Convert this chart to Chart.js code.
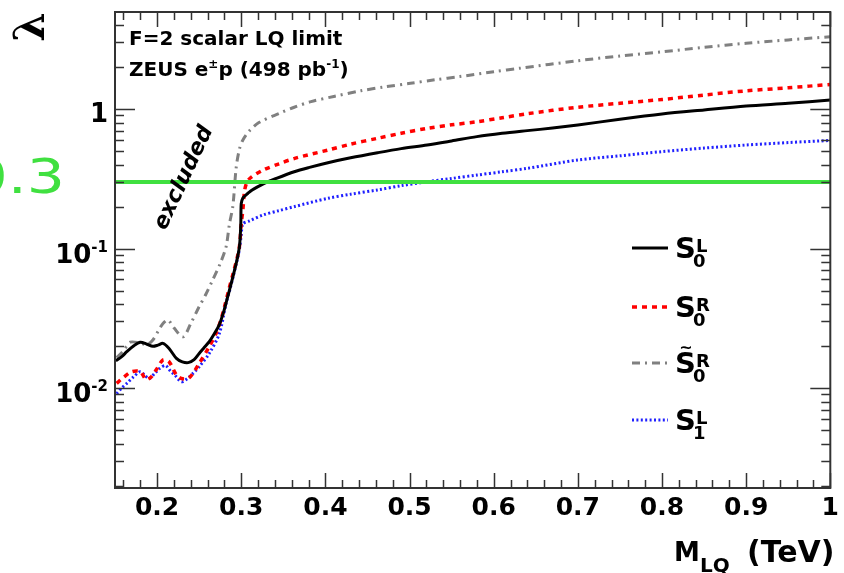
<!DOCTYPE html>
<html><head><meta charset="utf-8">
<script src="https://cdn.jsdelivr.net/npm/chart.js@4/dist/chart.umd.min.js"></script>
<style>html,body{margin:0;padding:0;background:#fff;}#wrap{width:844px;height:573px;position:relative;}</style>
</head><body><div id="wrap"><canvas id="c"></canvas></div>
<script>
// ---- data ----
const massS0L = [0.151,0.158,0.164,0.172,0.180,0.188,0.195,0.201,0.207,0.214,0.223,0.230,0.237,0.244,0.250,0.256,0.262,0.268,0.274,0.279,0.283,0.287,0.291,0.295,0.298,0.2995,0.300,0.302,0.305,0.308,0.313,0.320,0.328,0.340,0.363,0.380,0.403,0.430,0.462,0.490,0.521,0.550,0.580,0.610,0.640,0.670,0.700,0.750,0.800,0.850,0.900,0.950,1.000];
const lambdaS0L = [0.0157,0.0168,0.0182,0.0200,0.0213,0.0206,0.0199,0.0203,0.0209,0.0193,0.0163,0.0154,0.0152,0.0160,0.0177,0.0195,0.0215,0.0245,0.0285,0.035,0.043,0.053,0.066,0.083,0.105,0.15,0.21,0.23,0.24,0.249,0.263,0.278,0.294,0.315,0.355,0.38,0.412,0.447,0.486,0.52,0.552,0.59,0.634,0.67,0.70,0.73,0.768,0.845,0.921,0.985,1.05,1.10,1.16];

const massS0R = [0.152,0.160,0.170,0.180,0.187,0.193,0.199,0.207,0.214,0.223,0.229,0.238,0.250,0.262,0.270,0.276,0.280,0.285,0.290,0.295,0.298,0.300,0.302,0.304,0.307,0.312,0.326,0.345,0.3635,0.403,0.430,0.462,0.490,0.521,0.550,0.580,0.610,0.640,0.700,0.750,0.800,0.850,0.900,0.950,1.000];
const lambdaS0R = [0.0108,0.0119,0.0131,0.0131,0.0115,0.0120,0.0135,0.0159,0.0155,0.0124,0.0117,0.0118,0.0150,0.0198,0.0246,0.031,0.038,0.050,0.065,0.085,0.105,0.15,0.19,0.26,0.30,0.325,0.365,0.405,0.443,0.508,0.56,0.617,0.67,0.727,0.77,0.81,0.865,0.925,1.03,1.10,1.17,1.26,1.35,1.42,1.50];

const massS0Rt = [0.152,0.160,0.168,0.180,0.188,0.195,0.202,0.207,0.213,0.220,0.231,0.240,0.250,0.258,0.266,0.275,0.282,0.286,0.290,0.294,0.298,0.302,0.310,0.321,0.345,0.363,0.383,0.410,0.442,0.470,0.501,0.530,0.560,0.600,0.631,0.700,0.750,0.800,0.850,0.900,0.950,1.000];
const lambdaS0Rt = [0.0165,0.0185,0.0213,0.0210,0.0205,0.0221,0.026,0.029,0.0307,0.027,0.0233,0.029,0.0383,0.047,0.0594,0.078,0.103,0.15,0.20,0.38,0.52,0.60,0.70,0.80,0.93,1.03,1.13,1.23,1.35,1.44,1.53,1.62,1.71,1.85,1.96,2.22,2.40,2.57,2.77,2.96,3.13,3.30];

const massS1L = [0.152,0.158,0.164,0.172,0.180,0.186,0.191,0.197,0.203,0.210,0.216,0.221,0.229,0.236,0.243,0.250,0.262,0.274,0.282,0.287,0.291,0.295,0.298,0.300,0.302,0.310,0.326,0.345,0.3635,0.403,0.430,0.462,0.490,0.521,0.550,0.580,0.610,0.640,0.700,0.750,0.800,0.850,0.900,0.950,1.000];
const lambdaS1L = [0.0091,0.0100,0.0108,0.0120,0.0131,0.0122,0.0117,0.0127,0.0138,0.0145,0.0132,0.0124,0.0111,0.0117,0.0128,0.0142,0.0177,0.0246,0.0405,0.052,0.065,0.082,0.100,0.125,0.150,0.158,0.174,0.187,0.200,0.229,0.245,0.263,0.282,0.301,0.318,0.336,0.355,0.376,0.431,0.462,0.495,0.525,0.552,0.575,0.595];

const limitMass = [0.15, 1.0];
const limitLambda = [0.3, 0.3];

const xTickValues = [0.2,0.3,0.4,0.5,0.6,0.7,0.8,0.9,1.0];
const yLabelValues = [0.01, 0.1, 1];
const yLabelExps = ['-2','-1',''];

const xMin = 0.15, xMax = 1.0, yMin = 0.00192, yMax = 4.96;

const pts = (xs, ys) => xs.map((x, i) => ({x: x, y: ys[i]}));

const FONT = '"DejaVu Sans", sans-serif';

const decor = {
  id: 'decor',
  afterDatasetsDraw(chart) {
    const ctx = chart.ctx;
    const xs = chart.scales.x, ys = chart.scales.y;
    const a = chart.chartArea;
    ctx.save();
    // frame
    ctx.strokeStyle = '#333';
    ctx.lineWidth = 2;
    ctx.strokeRect(a.left, a.top, a.right - a.left, a.bottom - a.top);
    ctx.lineWidth = 1.5;
    ctx.beginPath();
    // x ticks (major every 0.1, minor every 0.02)
    for (let k = 8; k <= 50; k++) {
      const v = k * 0.02;
      if (v < xMin - 1e-9 || v > xMax + 1e-9) continue;
      const major = (k % 5 === 0);
      const L = major ? 15 : 8;
      const px = Math.round(xs.getPixelForValue(v)) + 0.5;
      ctx.moveTo(px, a.bottom); ctx.lineTo(px, a.bottom - L);
      ctx.moveTo(px, a.top); ctx.lineTo(px, a.top + L);
    }
    // y ticks (log)
    for (let e = -3; e <= 1; e++) {
      for (let m = 1; m <= 9; m++) {
        const v = m * Math.pow(10, e);
        if (v < yMin || v > yMax) continue;
        const L = (m === 1) ? 20 : 9;
        const py = Math.round(ys.getPixelForValue(v)) + 0.5;
        ctx.moveTo(a.left, py); ctx.lineTo(a.left + L, py);
        ctx.moveTo(a.right, py); ctx.lineTo(a.right - L, py);
      }
    }
    ctx.stroke();

    ctx.fillStyle = '#000';
    // y labels
    yLabelValues.forEach((v, i) => {
      const py = ys.getPixelForValue(v);
      const exp = yLabelExps[i];
      ctx.textBaseline = 'alphabetic';
      if (exp === '') {
        ctx.font = 'bold 26px ' + FONT;
        ctx.textAlign = 'right';
        ctx.fillText('1', 108, py + 13);
      } else {
        ctx.font = 'bold 15px ' + FONT;
        ctx.textAlign = 'left';
        const w = ctx.measureText(exp).width;
        const ex = 108 - w;
        ctx.fillText(exp, ex, py + 3);
        ctx.font = 'bold 26px ' + FONT;
        ctx.textAlign = 'right';
        ctx.fillText('10', ex, py + 14);
      }
    });

    // axis titles
    ctx.textAlign = 'left';
    ctx.font = 'bold 26px ' + FONT;
    ctx.fillText('M', 674, 561);
    ctx.font = 'bold 20px ' + FONT;
    ctx.fillText('LQ', 700, 572);
    ctx.font = 'bold 30px ' + FONT;
    ctx.fillText('(TeV)', 747, 562);

    // lambda (rotated y title)
    ctx.save();
    ctx.translate(33, 27);
    ctx.rotate(-Math.PI / 2);
    ctx.font = 'bold 42px "DejaVu Serif", serif';
    ctx.textAlign = 'center';
    ctx.textBaseline = 'middle';
    ctx.fillText('λ', 0, 0);
    ctx.restore();

    // green 0.3 label (wide face, partly cut at the left edge)
    ctx.save();
    ctx.fillStyle = '#40e040';
    ctx.translate(65, ys.getPixelForValue(0.3) + 11);
    ctx.scale(1.25, 1);
    ctx.font = '48px "DejaVu Sans", sans-serif';
    ctx.textAlign = 'right';
    ctx.textBaseline = 'alphabetic';
    ctx.fillText('0.3', 0, 0);
    ctx.restore();

    // header texts
    ctx.fillStyle = '#000';
    ctx.textAlign = 'left';
    ctx.textBaseline = 'alphabetic';
    ctx.font = 'bold 20px ' + FONT;
    ctx.fillText('F=2 scalar LQ limit', 129, 45);
    let x = 129;
    const seg = (t, size, dy) => {
      ctx.font = 'bold ' + size + 'px ' + FONT;
      ctx.fillText(t, x, 76 + dy);
      x += ctx.measureText(t).width;
    };
    seg('ZEUS e', 20, 0); seg('±', 12, -8); seg('p (498 pb', 20, 0); seg('-1', 12, -8); seg(')', 20, 0);

    // excluded
    ctx.save();
    ctx.translate(184, 178);
    ctx.rotate(-65 * Math.PI / 180);
    ctx.font = 'italic bold 22px ' + FONT;
    ctx.textAlign = 'center';
    ctx.textBaseline = 'middle';
    ctx.fillText('excluded', 0, 0);
    ctx.restore();

    // legend
    const entries = [
      {ds: 1, base: 258, sup: 'L', sub: '0', tilde: false},
      {ds: 2, base: 317, sup: 'R', sub: '0', tilde: false},
      {ds: 3, base: 373, sup: 'R', sub: '0', tilde: true},
      {ds: 4, base: 430, sup: 'L', sub: '1', tilde: false}
    ];
    entries.forEach(en => {
      const d = chart.data.datasets[en.ds];
      ctx.save();
      ctx.strokeStyle = d.borderColor;
      ctx.lineWidth = d.borderWidth;
      ctx.setLineDash(d.borderDash || []);
      ctx.beginPath();
      ctx.moveTo(632, en.base - 10); ctx.lineTo(668, en.base - 10);
      ctx.stroke();
      ctx.restore();
      ctx.fillStyle = '#000';
      ctx.textAlign = 'left';
      ctx.textBaseline = 'alphabetic';
      ctx.font = 'bold 29px ' + FONT;
      ctx.fillText('S', 675, en.base);
      if (en.tilde) {
        ctx.font = 'bold 16px ' + FONT;
        ctx.textAlign = 'center';
        ctx.fillText('~', 686, en.base - 20);
        ctx.textAlign = 'left';
      }
      ctx.font = 'bold 18px ' + FONT;
      ctx.fillText(en.sup, 696, en.base - 6);
      ctx.fillText(en.sub, 693, en.base + 9);
    });
    ctx.restore();
  }
};

new Chart(document.getElementById('c'), {
  type: 'line',
  data: {
    datasets: [
      {label: 'limit 0.3', data: pts(limitMass, limitLambda), borderColor: '#40e040', borderWidth: 4, pointRadius: 0, tension: 0},
      {label: 'S0L', data: pts(massS0L, lambdaS0L), borderColor: '#000000', borderWidth: 3, pointRadius: 0, tension: 0.3},
      {label: 'S0R', data: pts(massS0R, lambdaS0R), borderColor: '#ff0000', borderWidth: 3.5, borderDash: [5, 5], pointRadius: 0, tension: 0.3},
      {label: '~S0R', data: pts(massS0Rt, lambdaS0Rt), borderColor: '#808080', borderWidth: 3, borderDash: [8, 5, 2, 5], pointRadius: 0, tension: 0.3},
      {label: 'S1L', data: pts(massS1L, lambdaS1L), borderColor: '#2020ff', borderWidth: 3, borderDash: [2, 2.4], pointRadius: 0, tension: 0.3}
    ]
  },
  options: {
    responsive: true,
    maintainAspectRatio: false,
    animation: false,
    devicePixelRatio: 1,
    layout: {padding: {left: 0, right: 9, top: 12, bottom: 0}},
    plugins: {legend: {display: false}, tooltip: {enabled: false}},
    scales: {
      x: {
        type: 'linear', min: xMin, max: xMax,
        grid: {display: false, drawTicks: false},
        border: {display: false},
        ticks: {
          color: '#000', font: {family: 'DejaVu Sans', weight: 'bold', size: 25},
          padding: 5, maxRotation: 0, autoSkip: false,
          callback: v => (Math.abs(v - 1) < 1e-9 ? '1' : v.toFixed(1))
        },
        afterBuildTicks: s => { s.ticks = xTickValues.map(v => ({value: v})); },
        afterFit: s => { s.height = 85; }
      },
      y: {
        type: 'logarithmic', min: yMin, max: yMax,
        grid: {display: false, drawTicks: false},
        border: {display: false},
        ticks: {display: false},
        afterFit: s => { s.width = 115; }
      }
    }
  },
  plugins: [decor]
});
</script>
</body></html>
